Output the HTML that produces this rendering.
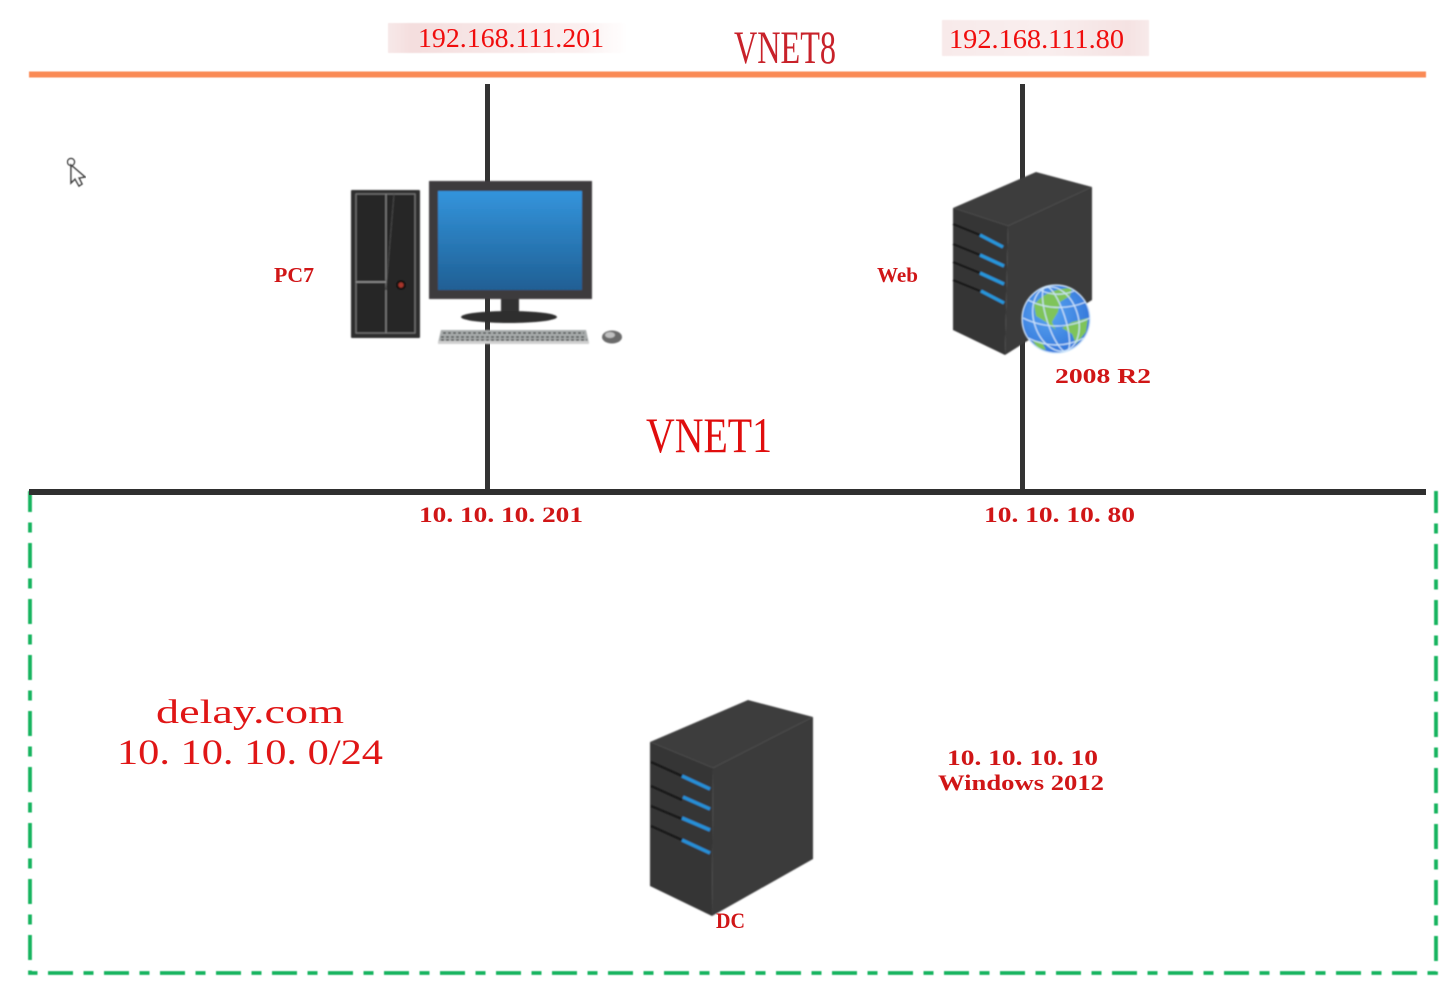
<!DOCTYPE html>
<html>
<head>
<meta charset="utf-8">
<style>
html,body{margin:0;padding:0;background:#fff;width:1455px;height:987px;overflow:hidden}
svg{display:block}
text{font-family:"Liberation Serif","Noto Serif CJK SC",serif;fill:#d01218}
</style>
</head>
<body>
<svg width="1455" height="987" viewBox="0 0 1455 987" xmlns="http://www.w3.org/2000/svg">
<defs>
<filter id="s" x="-5%" y="-5%" width="110%" height="110%"><feGaussianBlur stdDeviation="0.8"/></filter>
<filter id="t" x="-5%" y="-20%" width="110%" height="140%"><feGaussianBlur stdDeviation="0.35"/></filter>
<filter id="b" x="-5%" y="-20%" width="110%" height="140%"><feGaussianBlur stdDeviation="0.5"/></filter>
<linearGradient id="scr" x1="0" y1="0" x2="0" y2="1"><stop offset="0" stop-color="#3394dc"/><stop offset="1" stop-color="#1f5f94"/></linearGradient>
<linearGradient id="lab1" x1="0" y1="0" x2="1" y2="0"><stop offset="0" stop-color="#f7e8e8"/><stop offset=".1" stop-color="#f4dede"/><stop offset=".8" stop-color="#fbf0f0"/><stop offset="1" stop-color="#fff"/></linearGradient>
<linearGradient id="lab2" x1="0" y1="0" x2="1" y2="0"><stop offset="0" stop-color="#f8eaea"/><stop offset=".5" stop-color="#f9eeee"/><stop offset=".9" stop-color="#f5e2e2"/><stop offset="1" stop-color="#f8eaea"/></linearGradient>
<radialGradient id="globe" cx=".4" cy=".4" r=".7"><stop offset="0" stop-color="#5aa5f0"/><stop offset="1" stop-color="#2f72d8"/></radialGradient>
</defs>

<!-- label backgrounds -->
<rect x="388" y="23" width="240" height="30" fill="url(#lab1)" filter="url(#b)"/>
<rect x="942" y="20" width="207" height="36" fill="url(#lab2)" filter="url(#b)"/>

<!-- network bars -->
<rect x="29" y="71.5" width="1397" height="6" fill="#fa8a55" filter="url(#b)"/>
<rect x="485" y="84" width="5" height="100" fill="#333"/>
<rect x="485" y="295" width="5" height="197" fill="#333"/>
<rect x="1020" y="84" width="5" height="100" fill="#333"/>
<rect x="1020" y="340" width="5" height="152" fill="#333"/>

<!-- green dashed box -->
<path d="M30 491 V973 H1436 V491" fill="none" stroke="#17b45f" stroke-width="3.8" stroke-dasharray="25 10.5 10 10.5" stroke-dashoffset="4" filter="url(#b)"/>
<rect x="29" y="489" width="1397" height="6" fill="#2f2f2f"/>

<!-- PC tower -->
<g filter="url(#s)">
<rect x="351" y="190" width="69" height="148" rx="1" fill="#2f2f2f"/>
<rect x="356" y="194" width="59" height="139" fill="#262626" stroke="#777" stroke-width="1.2"/>
<line x1="386" y1="194" x2="386" y2="333" stroke="#888" stroke-width="1.2"/>
<line x1="356" y1="282" x2="386" y2="282" stroke="#999" stroke-width="1.4"/>
<line x1="394" y1="194" x2="386" y2="290" stroke="#4a4a4a" stroke-width="1"/>
<circle cx="401" cy="285" r="5" fill="#111"/>
<circle cx="401" cy="285" r="2.6" fill="#a8352a"/>
<!-- monitor -->
<rect x="429" y="181" width="163" height="118" fill="#3d3b3c"/>
<rect x="438" y="191" width="144" height="99" fill="url(#scr)"/>
<rect x="501" y="299" width="18" height="16" fill="#333"/>
<ellipse cx="509" cy="317" rx="48" ry="6" fill="#2e2e2e"/>
<!-- keyboard -->
<path d="M441 330 H586 L589 343 H438 Z" fill="#a8acac"/>
<rect x="438" y="341" width="151" height="3" fill="#d0d0d0"/>
<path d="M443 333 H584 M441 337 H586 M441 340 H587" stroke="#222" stroke-width="1.3" stroke-dasharray="3 2"/>
<!-- mouse -->
<ellipse cx="612" cy="337" rx="10" ry="6.5" fill="#6a6a6a"/>
<ellipse cx="610" cy="335" rx="5" ry="3" fill="#c0c0c0"/>
</g>

<!-- Web server -->
<g filter="url(#s)">
<path d="M953 208 L1036 172 L1092 187 L1008 226 Z" fill="#3c3c3c"/>
<path d="M1008 226 L1092 187 V300 L1005 355 Z" fill="#3a3a3a"/>
<path d="M953 208 L1008 226 L1005 355 L953 330 Z" fill="#353535"/>
<path d="M953 224 L980 235 M953 244 L980 255 M953 262 L980 273 M953 280 L980 291" stroke="#141414" stroke-width="2.2"/>
<path d="M980 235 L1003 247 M980 255 L1004 266 M980 273 L1004 284 M981 291 L1004 303" stroke="#2797dd" stroke-width="3.2"/>
</g>
<!-- globe -->
<g filter="url(#s)">
<circle cx="1056" cy="319" r="34" fill="url(#globe)"/>
<path d="M1034 305 C1042 294 1056 288 1072 288 L1070 296 L1060 302 L1058 312 L1052 322 L1056 330 L1046 322 L1036 316 Z M1062 328 L1072 322 L1088 318 L1086 332 L1076 344 L1072 334 Z M1032 340 L1042 342 L1046 350 L1038 348 Z" fill="#7fc45a"/>
<g fill="none" stroke="#cfe6fb" stroke-width="1.2">
<ellipse cx="1056" cy="319" rx="34" ry="34"/>
<ellipse cx="1056" cy="319" rx="22" ry="33" transform="rotate(-18 1056 319)"/>
<ellipse cx="1056" cy="319" rx="9" ry="34" transform="rotate(-18 1056 319)"/>
<path d="M1028 300 Q1056 314 1086 302 M1023 318 Q1056 334 1090 318 M1028 338 Q1056 352 1084 338 M1040 290 Q1056 298 1074 291"/>
</g>
</g>

<!-- DC server -->
<g filter="url(#s)">
<path d="M650 742 L748 700 L813 717 L713 768 Z" fill="#3d3d3d"/>
<path d="M713 768 L813 717 V859 L712 916 Z" fill="#3a3a3a"/>
<path d="M650 742 L713 768 L712 916 L650 886 Z" fill="#353535"/>
<path d="M651 762 L682 776 M651 786 L682 800 M651 806 L682 819 M651 826 L682 840" stroke="#141414" stroke-width="2.4"/>
<path d="M682 776 L710 789 M683 797 L710 809 M682 818 L710 830 M682 840 L710 853" stroke="#2690d8" stroke-width="3.4"/>
</g>

<!-- cursor -->
<g filter="url(#b)">
<circle cx="71" cy="162" r="3.5" fill="#fff" stroke="#444" stroke-width="1.5"/>
<path d="M71 165 V183 L75 179 L79 186 L82 184 L79 178 L85 177 Z" fill="#fff" stroke="#444" stroke-width="1.6"/>
</g>

<!-- labels -->
<g filter="url(#t)">
<text x="418" y="47" font-size="27" textLength="186" lengthAdjust="spacingAndGlyphs" style="fill:#f01010">192.168.111.201</text>
<text x="949" y="48" font-size="27" textLength="175" lengthAdjust="spacingAndGlyphs" style="fill:#f01010">192.168.111.80</text>
<text x="734" y="63" font-size="47" textLength="102" lengthAdjust="spacingAndGlyphs" style="fill:#c8202a">VNET8</text>
<text x="646" y="452" font-size="50" textLength="126" lengthAdjust="spacingAndGlyphs" style="fill:#e01010">VNET1</text>
<text x="274" y="282" font-size="21" font-weight="bold" textLength="40" lengthAdjust="spacingAndGlyphs">PC7</text>
<text x="877" y="282" font-size="21" font-weight="bold" textLength="41" lengthAdjust="spacingAndGlyphs">Web</text>
<text x="1055" y="383" font-size="21" font-weight="bold" textLength="96" lengthAdjust="spacingAndGlyphs" xml:space="preserve">2008 R2</text>
<text x="419" y="522" font-size="22" font-weight="bold" textLength="164" lengthAdjust="spacingAndGlyphs" xml:space="preserve">10. 10. 10. 201</text>
<text x="984" y="522" font-size="22" font-weight="bold" textLength="151" lengthAdjust="spacingAndGlyphs" xml:space="preserve">10. 10. 10. 80</text>
<text x="156" y="723" font-size="34" textLength="188" lengthAdjust="spacingAndGlyphs" style="fill:#e01818">delay.com</text>
<text x="117" y="764" font-size="36" textLength="266" lengthAdjust="spacingAndGlyphs" xml:space="preserve" style="fill:#e01818">10. 10. 10. 0/24</text>
<text x="947" y="765" font-size="22" font-weight="bold" textLength="151" lengthAdjust="spacingAndGlyphs" xml:space="preserve">10. 10. 10. 10</text>
<text x="938" y="790" font-size="22" font-weight="bold" textLength="166" lengthAdjust="spacingAndGlyphs" xml:space="preserve">Windows 2012</text>
<text x="716" y="928" font-size="22" font-weight="bold" textLength="29" lengthAdjust="spacingAndGlyphs">DC</text>
</g>
</svg>
</body>
</html>
